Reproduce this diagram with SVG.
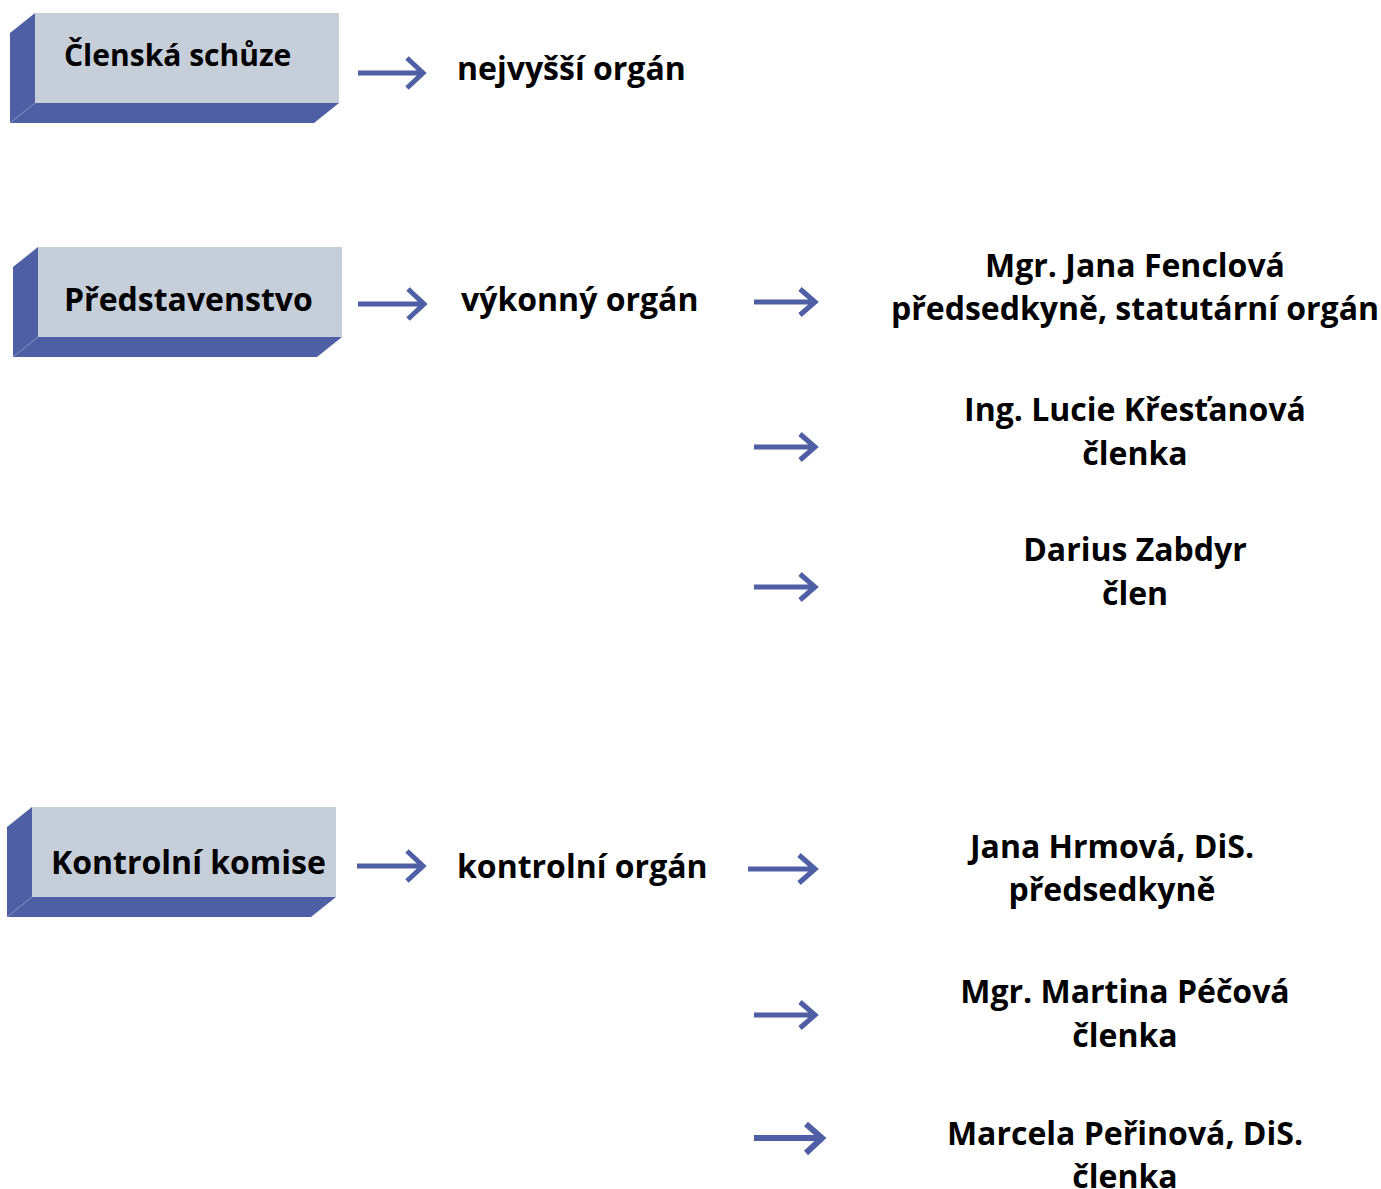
<svg xmlns="http://www.w3.org/2000/svg" width="1381" height="1189" viewBox="0 0 1381 1189">
<style>
.front{fill:#C6CED9}
.side{fill:#4F5FA6}
.edge{stroke:#8A95C6;stroke-width:1;fill:none}
text{font-family:"Open Sans","Noto Sans","Liberation Sans",sans-serif;font-weight:bold;font-size:32px;fill:#000}
.c{text-anchor:middle}
.arr{stroke:#4F5FA6;stroke-width:5;fill:none;stroke-linejoin:miter}
</style>
<defs>
<g id="box">
<polygon class="side" points="0,20 25,0 25,110 0,110"/>
<polygon class="side" points="25,90 329,90 304,110 0,110"/>
<rect class="front" x="25" y="0" width="304" height="90"/>
<line class="edge" x1="0" y1="110" x2="25" y2="90"/>
</g>
</defs>
<rect width="1381" height="1189" fill="#fff"/>
<g id="node-clenska-schuze">
<use href="#box" x="10" y="13"/>
<text x="64" y="66" style="font-size:30px">Členská schůze</text>
</g>
<g id="node-predstavenstvo">
<use href="#box" x="13" y="247"/>
<text x="64" y="311">Představenstvo</text>
</g>
<g id="node-kontrolni-komise">
<use href="#box" x="7" y="807"/>
<text x="51" y="874">Kontrolní komise</text>
</g>
<g id="node-nejvyssi">
<text x="457" y="80">nejvyšší orgán</text>
</g>
<g id="node-vykonny">
<text x="461" y="311">výkonný orgán</text>
</g>
<g id="node-kontrolni-organ">
<text x="457" y="878">kontrolní orgán</text>
</g>
<g id="node-fenclova">
<text class="c" x="1135" y="277">Mgr. Jana Fenclová</text>
<text class="c" x="1135" y="320">předsedkyně, statutární orgán</text>
</g>
<g id="node-krestanova">
<text class="c" x="1135" y="421">Ing. Lucie Křesťanová</text>
<text class="c" x="1135" y="465">členka</text>
</g>
<g id="node-zabdyr">
<text class="c" x="1135" y="561">Darius Zabdyr</text>
<text class="c" x="1135" y="605">člen</text>
</g>
<g id="node-hrmova">
<text class="c" x="1112" y="858">Jana Hrmová, DiS.</text>
<text class="c" x="1112" y="901">předsedkyně</text>
</g>
<g id="node-pecova">
<text class="c" x="1125" y="1003">Mgr. Martina Péčová</text>
<text class="c" x="1125" y="1047">členka</text>
</g>
<g id="node-perinova">
<text class="c" x="1125" y="1145">Marcela Peřinová, DiS.</text>
<text class="c" x="1125" y="1188">členka</text>
</g>
<g id="connectors">
<path class="arr" d="M358,73 H423 M407,58 L423,73 L407,88"/>
<path class="arr" d="M358,304 H424 M408,289 L424,304 L408,319"/>
<path class="arr" d="M357,866 H423 M407,851 L423,866 L407,881"/>
<path class="arr" d="M754,302 H815 M800,289 L815,302 L800,315"/>
<path class="arr" d="M754,447 H815 M800,434 L815,447 L800,460"/>
<path class="arr" d="M754,587 H815 M800,574 L815,587 L800,600"/>
<path class="arr" d="M748,869 H815 M799,855 L815,869 L799,883"/>
<path class="arr" d="M754,1015 H815 M800,1002 L815,1015 L800,1028"/>
<path class="arr" style="stroke-width:6" d="M754,1138 H822 M806,1124 L822,1138 L806,1153"/>
</g>
</svg>
